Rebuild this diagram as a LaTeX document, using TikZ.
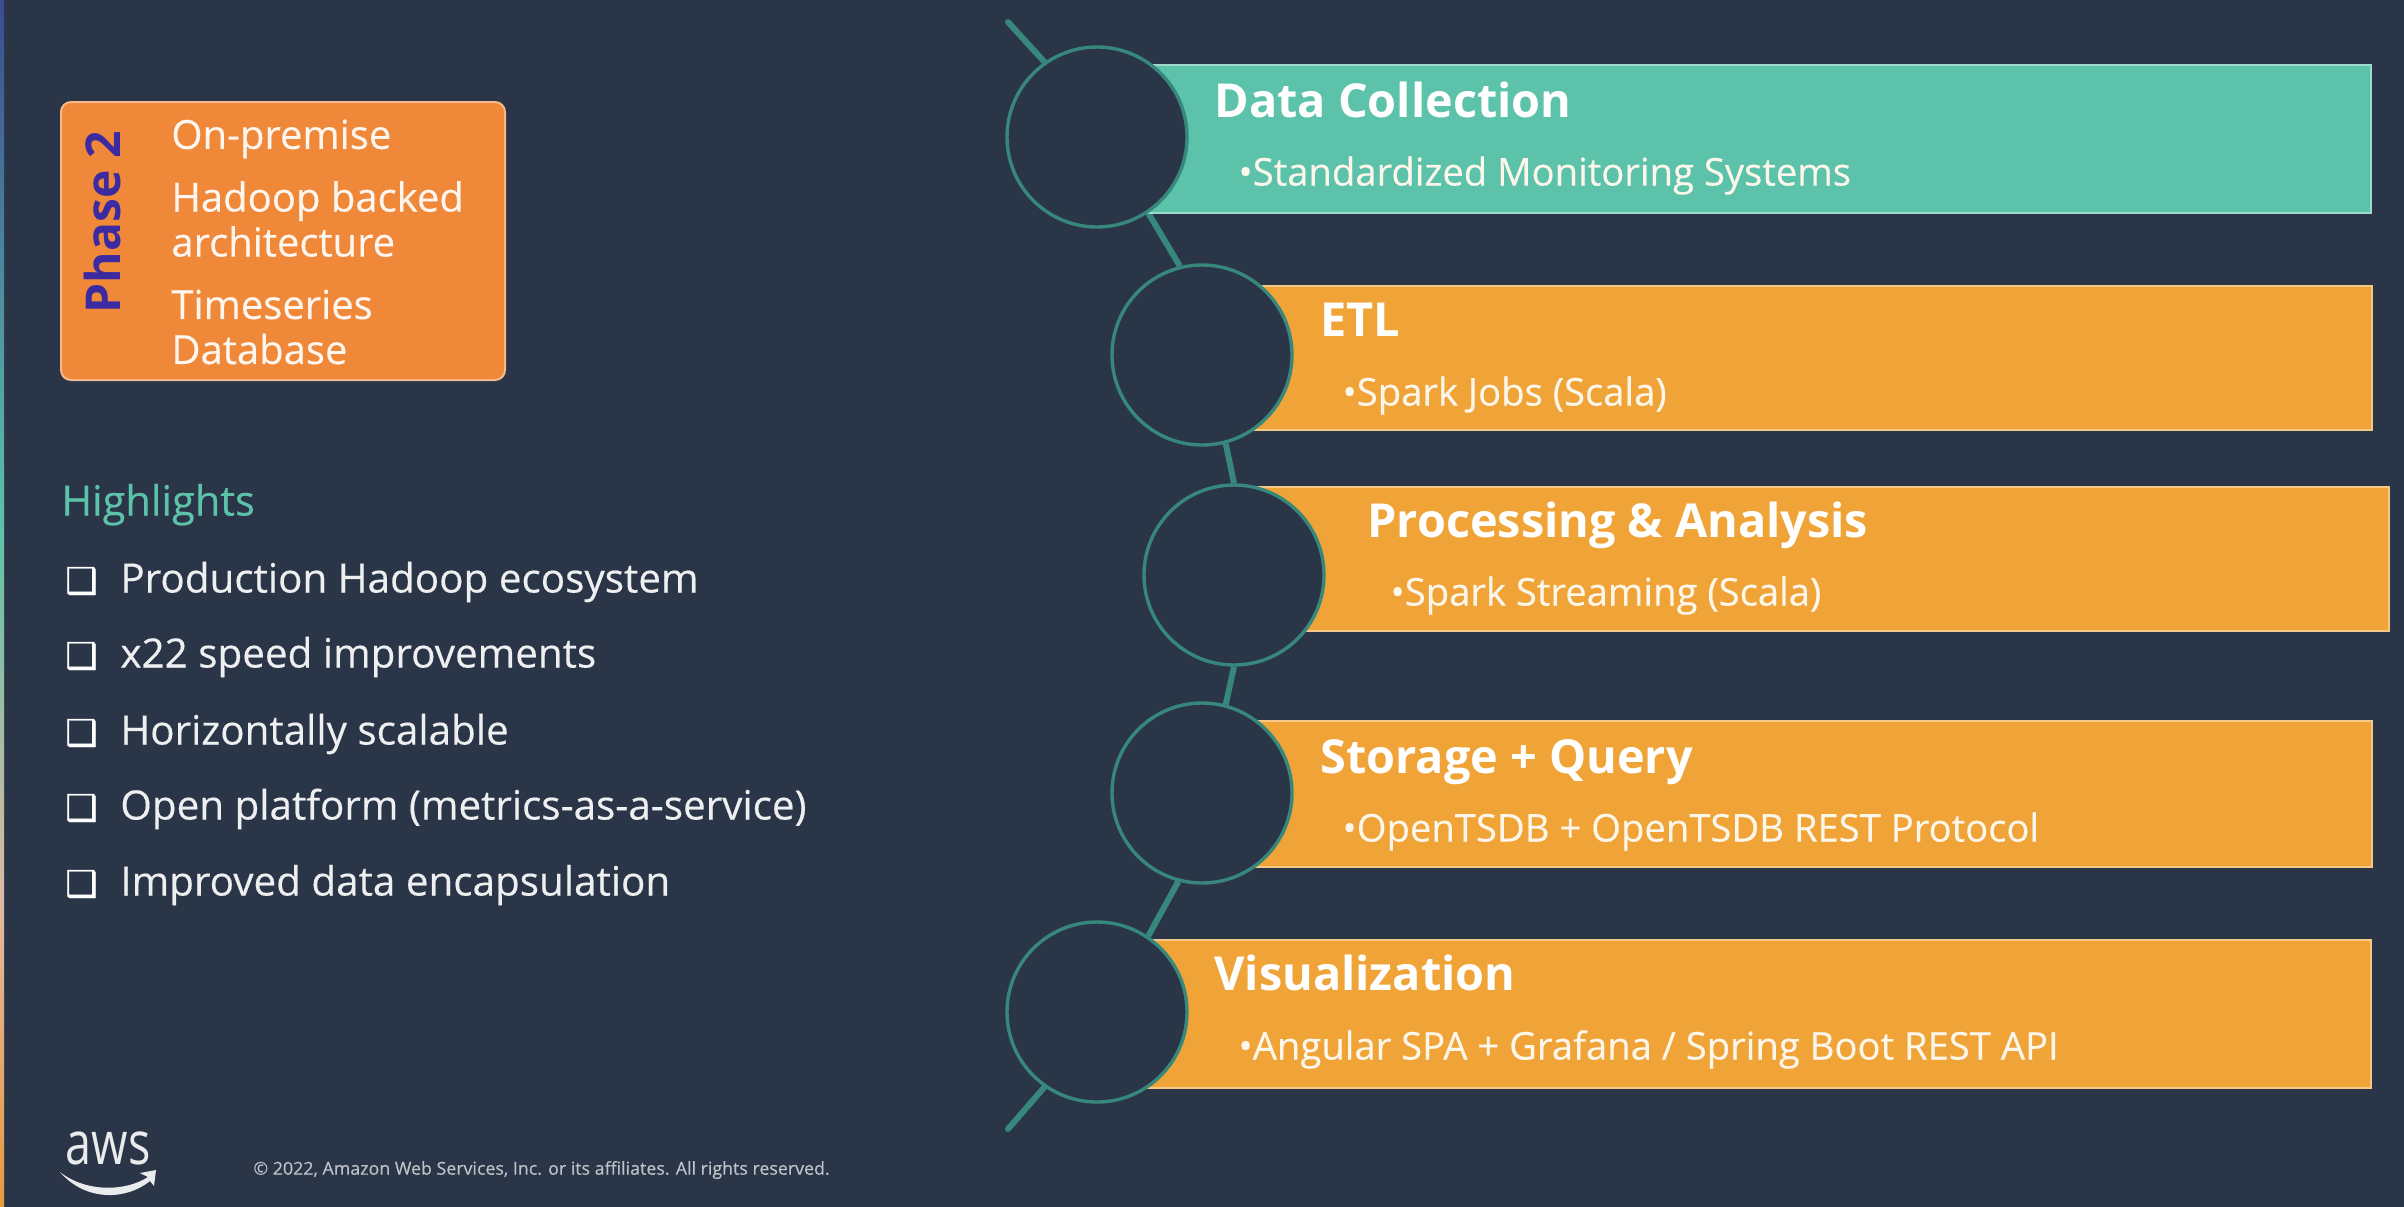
\documentclass[tikz,border=0pt]{standalone}
\usepackage{fontspec}
\setmainfont{Open Sans}
\newfontfamily\symfont[FakeBold=1.2]{DejaVu Sans}
\newfontfamily\medfont[FakeBold=0.35]{Open Sans}
\usepackage{xcolor}
\usetikzlibrary{positioning, calc}
\definecolor{slate}{HTML}{2A3547}
\definecolor{lteal}{HTML}{5CC2A9}
\definecolor{lorange}{HTML}{F0A438}
\definecolor{dorange}{HTML}{F0883A}
\definecolor{ringteal}{HTML}{37877D}
\definecolor{phaseblue}{HTML}{3B2AA0}
\definecolor{stripblue}{HTML}{3B4A90}
\definecolor{strippeach}{HTML}{E0B8A0}
\definecolor{striporange}{HTML}{E89A3C}
\pgfdeclarelayer{back}
\pgfsetlayers{back,main}
\tikzstyle{Ring} = [circle, draw=ringteal, line width=1.7pt, fill=slate, minimum size=90pt, inner sep=0pt]
\tikzstyle{Link} = [draw=ringteal, line width=3pt]
\tikzstyle{Bar} = [anchor=north west, inner sep=0pt, line width=1pt, minimum width=635pt]
\tikzstyle{Title} = [anchor=west, text=white, inner sep=0pt, text height=17.5pt, text depth=0pt, font=\fontsize{23.4}{28}\selectfont\bfseries]
\tikzstyle{Sub} = [anchor=west, text=white!90!lorange, inner sep=0pt, text height=16pt, text depth=2.5pt, font=\medfont\fontsize{19.1}{22}\selectfont]
\tikzstyle{Item} = [anchor=west, text=white!92!slate, inner sep=0pt, text height=17pt, text depth=2.5pt, font=\medfont\fontsize{20.2}{24}\selectfont]
\tikzstyle{Tick} = [text=white, inner sep=0pt, yshift=-1.5pt, font=\symfont\fontsize{18}{22}\selectfont]
\tikzstyle{PhaseText} = [anchor=west, align=left, text=white!92!dorange, inner sep=0pt, font=\medfont\fontsize{20}{22.5}\selectfont]

\begin{document}
\begin{tikzpicture}[x=0.5pt, y=-0.5pt]
    \useasboundingbox (0,0) rectangle (2404,1206);
    \begin{pgfonlayer}{back}
        \fill[slate] (-5,-5) rectangle (2409,1211);
        \shade[top color=stripblue, bottom color=lteal] (0,-5) rectangle (4,523);
        \shade[top color=lteal, bottom color=strippeach] (0,523) rectangle (4,907);
        \shade[top color=strippeach, bottom color=striporange] (0,907) rectangle (4,1211);
    \end{pgfonlayer}

    % bars
    \node [Bar, fill=lteal, draw=lteal!60!white, minimum height=74pt] (collect) at (1100,64) {};
    \node [Bar, fill=lorange, draw=lorange!60!white, minimum height=72pt, minimum width=583.5pt] (etl) at (1204,285) {};
    \node [Bar, fill=lorange, draw=lorange!60!white, minimum height=72pt, minimum width=577pt] (proc) at (1234,486) {};
    \node [Bar, fill=lorange, draw=lorange!60!white, minimum height=73pt, minimum width=583.5pt] (store) at (1204,720) {};
    \node [Bar, fill=lorange, draw=lorange!60!white, minimum height=74pt] (vis) at (1100,939) {};

    % rings on the spine
    \node [Ring] (r1) at (1097,137) {};
    \node [Ring] (r2) at (1202,355) {};
    \node [Ring] (r3) at (1234,575) {};
    \node [Ring] (r4) at (1202,793) {};
    \node [Ring] (r5) at (1097,1012) {};
    \coordinate (top) at (1008,22);
    \coordinate (bottom) at (1008,1129);
    \begin{pgfonlayer}{back}
        \draw[Link, line cap=round] (top) -- (r1.125);
        \draw[Link] (r1.-56) -- (r2.104);
        \draw[Link] (r2.-75) -- (r3.90);
        \draw[Link] (r3.-90) -- (r4.75);
        \draw[Link] (r4.-105) -- (r5.56);
        \draw[Link, line cap=round] (r5.235) -- (bottom);
    \end{pgfonlayer}

    % bar labels
    \node [Title] (t1) at (1214,100) {Data Collection};
    \node [Sub] (s1) at (1238,172) {•Standardized Monitoring Systems};
    \node [Title] (t2) at (1320,319) {ETL};
    \node [Sub] (s2) at (1342,392) {•Spark Jobs (Scala)};
    \node [Title] (t3) at (1367,520) {Processing \& Analysis};
    \node [Sub] (s3) at (1390,592) {•Spark Streaming (Scala)};
    \node [Title] (t4) at (1320,756) {Storage + Query};
    \node [Sub] (s4) at (1342,828) {•OpenTSDB + OpenTSDB REST Protocol};
    \node [Title] (t5) at (1214,973) {Visualization};
    \node [Sub] (s5) at (1238,1046) {•Angular SPA + Grafana / Spring Boot REST API};

    % phase box
    \node [anchor=north west, fill=dorange, draw=dorange!60!white, line width=1pt, rounded corners=5pt,
        minimum width=222pt, minimum height=139pt] (phase) at (60,101) {};
    \node [rotate=90, text=phaseblue, inner sep=0pt, font=\fontsize{24}{28}\selectfont\bfseries] (pname) at (102,222) {Phase 2};
    \node [PhaseText] (p1) at (171,139) {On-premise};
    \node [PhaseText] (p2) at (171,219) {Hadoop backed\\architecture};
    \node [PhaseText] (p3) at (171,327) {Timeseries\\Database};

    % highlights
    \node [Item, text=lteal, font=\medfont\fontsize{20.8}{24}\selectfont] (head) at (61,501) {Highlights};
    \node [Item] (h1) at (120,578) {Production Hadoop ecosystem};
    \node [Item] (h2) at (120,653) {x22 speed improvements};
    \node [Item] (h3) at (120,730) {Horizontally scalable};
    \node [Item] (h4) at (120,805) {Open platform (metrics-as-a-service)};
    \node [Item] (h5) at (120,881) {Improved data encapsulation};
    \node [Tick, left=11pt of h1] (b1) {❑};
    \node [Tick, left=11pt of h2] (b2) {❑};
    \node [Tick, left=11pt of h3] (b3) {❑};
    \node [Tick, left=11pt of h4] (b4) {❑};
    \node [Tick, left=11pt of h5] (b5) {❑};

    % footer
    \node [anchor=center, xscale=.78, text=white!90!slate, inner sep=0pt, font=\fontsize{30}{32}\selectfont] (aws) at (108,1148) {aws};
    \fill[white!90!slate] (60,1172) .. controls (85,1192) and (125,1192) .. (148,1177)
        -- (140,1173) -- (156,1170) -- (154,1186) -- (150,1181) .. controls (125,1201) and (85,1201) .. (60,1172);
    \node [anchor=west, text=white!70!slate, inner sep=0pt, font=\medfont\fontsize{8.9}{10}\selectfont] (legal) at (253,1170) {© 2022, Amazon Web Services, Inc. or its affiliates. All rights reserved.};
\end{tikzpicture}
\end{document}
